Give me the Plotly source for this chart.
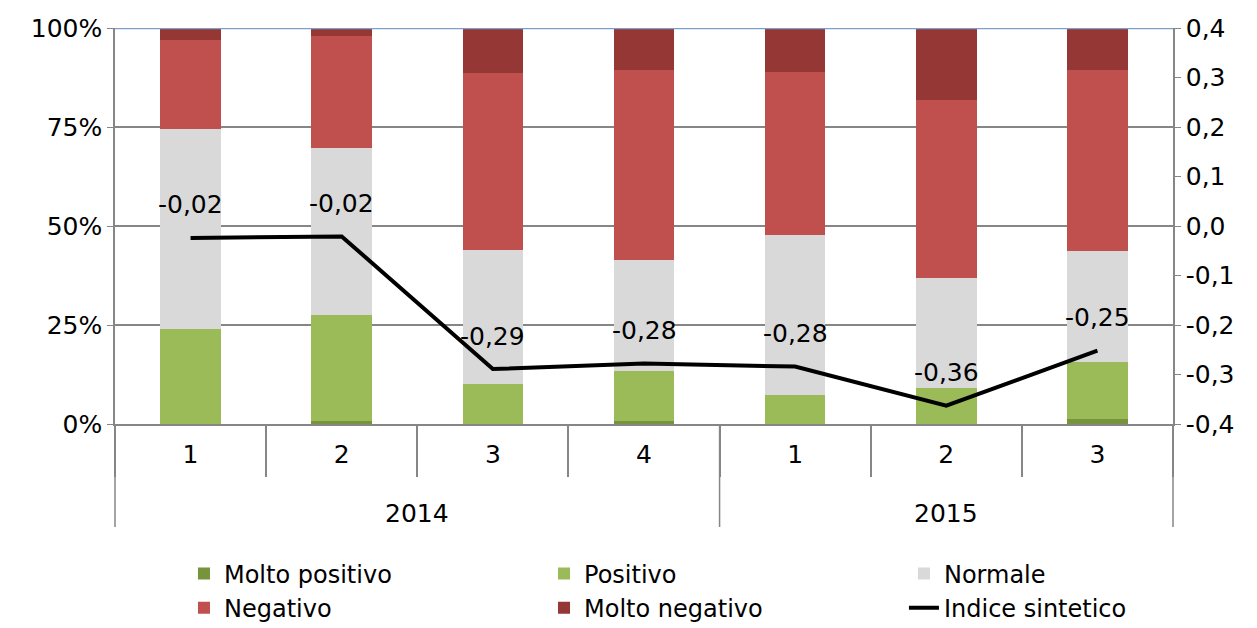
import plotly.graph_objects as go

years = ["2014", "2014", "2014", "2014", "2015", "2015", "2015"]
quarters = ["1", "2", "3", "4", "1", "2", "3"]

molto_positivo = [0.0, 0.8, 0.0, 0.8, 0.0, 0.0, 1.3]
positivo = [24.0, 26.7, 10.1, 12.6, 7.3, 9.1, 14.4]
normale = [50.5, 42.2, 33.8, 28.0, 40.4, 27.8, 28.0]
negativo = [22.5, 28.3, 44.7, 48.0, 41.2, 44.9, 45.7]
molto_negativo = [3.0, 2.0, 11.4, 10.6, 11.1, 18.2, 10.6]
indice = [-0.024, -0.021, -0.289, -0.278, -0.284, -0.363, -0.252]

left_ticks = [0, 25, 50, 75, 100]
right_ticks = [-0.4, -0.3, -0.2, -0.1, 0.0, 0.1, 0.2, 0.3, 0.4]

FONT = "DejaVu Sans"
FS = 25
GRAY = "#868686"

cats = [f"{y}-{q}" for y, q in zip(years, quarters)]

def fmt(v, d):
    s = f"{v:.{d}f}".replace(".", ",")
    if s.startswith("-") and float(s.replace(",", ".")) == 0:
        s = s[1:]
    return s

fig = go.Figure()
series = [
    ("Molto positivo", molto_positivo, "#77933C", "legend"),
    ("Positivo", positivo, "#9BBB59", "legend2"),
    ("Normale", normale, "#D9D9D9", "legend3"),
    ("Negativo", negativo, "#C0504D", "legend"),
    ("Molto negativo", molto_negativo, "#953735", "legend2"),
]
for name, vals, col, lg in series:
    fig.add_trace(go.Bar(x=cats, y=vals, name=name, marker=dict(color=col, line=dict(width=0)),
                         yaxis="y", legend=lg))

fig.add_trace(go.Scatter(x=cats, y=indice, name="Indice sintetico", mode="lines",
                         line=dict(color="black", width=4), yaxis="y2", legend="legend3"))

for c, v in zip(cats, indice):
    fig.add_annotation(x=c, y=v, xref="x", yref="y2", text=fmt(v, 2),
                       showarrow=False, yshift=33, font=dict(family=FONT, size=FS, color="black"))

# year group labels
uniq_years = []
for y in years:
    if y not in uniq_years:
        uniq_years.append(y)
for yr in uniq_years:
    idx = [i for i, y in enumerate(years) if y == yr]
    fig.add_annotation(x=(idx[0] + idx[-1]) / 2, y=-0.225, xref="x", yref="paper", text=yr,
                       showarrow=False, yanchor="middle", font=dict(family=FONT, size=FS, color="black"))

# year dividers (outer edges and between groups)
n = len(cats)
bounds = [0.0]
for i in range(1, n):
    if years[i] != years[i - 1]:
        bounds.append(i / n)
bounds.append(1.0)
for b in bounds:
    fig.add_shape(type="line", xref="paper", yref="paper", x0=b, x1=b, y0=0, y1=-0.26,
                  line=dict(color=GRAY, width=1.5))

fig.add_shape(type="line", xref="paper", yref="y", x0=0, x1=1, y0=100, y1=100,
              line=dict(color="#7F9FC7", width=2.5), layer="above")

leg_common = dict(orientation="v", xanchor="left", y=-0.322, yanchor="top",
                  traceorder="normal", font=dict(family=FONT, size=24),
                  bgcolor="rgba(0,0,0,0)")

fig.update_layout(
    width=1249, height=620,
    margin=dict(l=107, r=84, t=20, b=204, autoexpand=False),
    plot_bgcolor="white", paper_bgcolor="white",
    barmode="stack", bargap=0.6,
    font=dict(family=FONT, size=FS, color="black"),
    xaxis=dict(type="category", tickvals=cats, ticktext=quarters, tickson="boundaries",
               showline=True, linecolor=GRAY, linewidth=1.5,
               ticks="outside", ticklen=51, tickcolor=GRAY, tickwidth=1.5,
               ticklabelstandoff=7, automargin=False,
               tickfont=dict(family=FONT, size=FS)),
    yaxis=dict(range=[0, 100], tickvals=left_ticks, ticktext=[f"{t}%" for t in left_ticks],
               showgrid=True, gridcolor=GRAY, gridwidth=1.5,
               showline=True, linecolor=GRAY, linewidth=1.5, automargin=False,
               ticks="outside", ticklen=6, tickcolor=GRAY, zeroline=False),
    yaxis2=dict(range=[-0.4, 0.4], tickvals=right_ticks, ticktext=[fmt(t, 1) for t in right_ticks],
                overlaying="y", side="right", automargin=False,
                showgrid=False, showline=True, linecolor=GRAY, linewidth=1.5,
                ticks="outside", ticklen=6, tickcolor=GRAY, zeroline=False),
    legend=dict(x=0.0652, **leg_common),
    legend2=dict(x=0.4055, **leg_common),
    legend3=dict(x=0.7457, **leg_common),
    showlegend=True,
)

fig.write_html("out.html")
